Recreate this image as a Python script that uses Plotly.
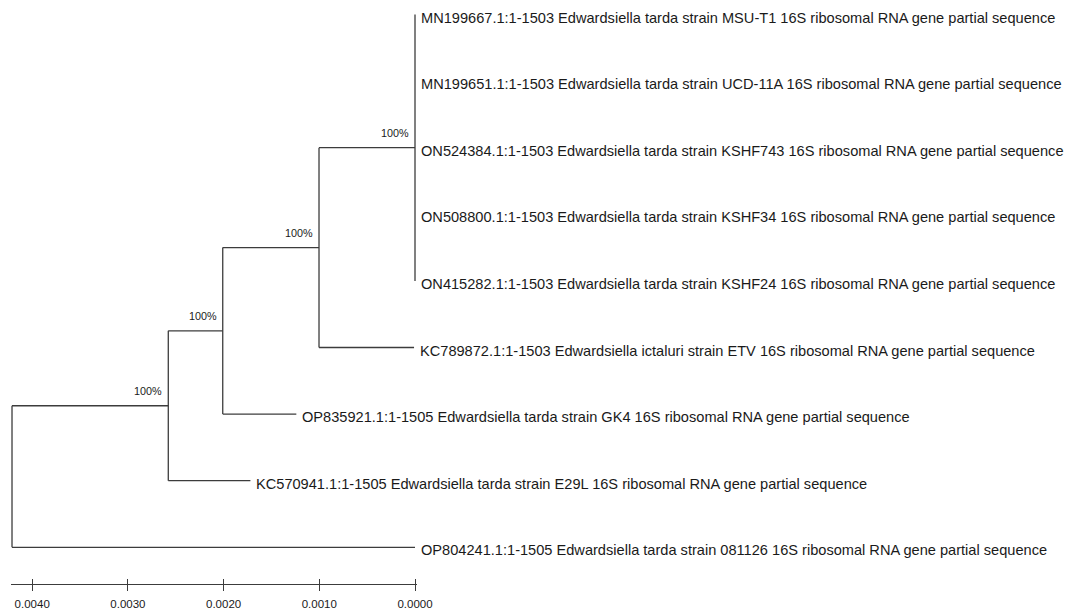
import plotly.graph_objects as go

# Leaves (top to bottom) and their distance values on the scale
leaf_names = [
    "MN199667.1:1-1503 Edwardsiella tarda strain MSU-T1 16S ribosomal RNA gene partial sequence",
    "MN199651.1:1-1503 Edwardsiella tarda strain UCD-11A 16S ribosomal RNA gene partial sequence",
    "ON524384.1:1-1503 Edwardsiella tarda strain KSHF743 16S ribosomal RNA gene partial sequence",
    "ON508800.1:1-1503 Edwardsiella tarda strain KSHF34 16S ribosomal RNA gene partial sequence",
    "ON415282.1:1-1503 Edwardsiella tarda strain KSHF24 16S ribosomal RNA gene partial sequence",
    "KC789872.1:1-1503 Edwardsiella ictaluri strain ETV 16S ribosomal RNA gene partial sequence",
    "OP835921.1:1-1505 Edwardsiella tarda strain GK4 16S ribosomal RNA gene partial sequence",
    "KC570941.1:1-1505 Edwardsiella tarda strain E29L 16S ribosomal RNA gene partial sequence",
    "OP804241.1:1-1505 Edwardsiella tarda strain 081126 16S ribosomal RNA gene partial sequence",
]
leaf_heights = [0.0, 0.0, 0.0, 0.0, 0.0, 0.00001, 0.00124, 0.00172, 0.0]

# Internal nodes: height on the scale, children, bootstrap support
node_ids = ["D", "C", "B", "A", "root"]
node_heights = [0.0, 0.001003, 0.002009, 0.002578, 0.004211]
node_children = [
    ["L0", "L1", "L2", "L3", "L4"],
    ["D", "L5"],
    ["C", "L6"],
    ["B", "L7"],
    ["A", "L8"],
]
node_support = ["100%", "100%", "100%", "100%", ""]

# Scale bar
scale_ticks = [0.0040, 0.0030, 0.0020, 0.0010, 0.0000]
scale_labels = ["0.0040", "0.0030", "0.0020", "0.0010", "0.0000"]

# ---- layout geometry (pixels) ----
W, H = 1083, 612
PX_PER_UNIT = 95700.0      # pixels per unit of distance
ZERO_PX = 415.0            # x pixel of distance 0
LEFT_PX = 11.0             # left end of the scale bar / plot area
RIGHT_PX = 417.0           # right end of the plot area
LEAF0_PX = 14.5            # y pixel of first leaf
LEAF_STEP = 66.6           # y pixels between leaves
SCALE_Y_PX = 584.0

LINE_COLOR = "#3c3c3c"
TEXT_COLOR = "#1a1a1a"
FONT = "Liberation Sans, Arial, sans-serif"

# ---- build coordinates ----
height = {f"L{i}": h for i, h in enumerate(leaf_heights)}
ypos = {f"L{i}": float(i) for i in range(len(leaf_names))}
for nid, h, ch in zip(node_ids, node_heights, node_children):
    height[nid] = h
    ys = [ypos[c] for c in ch]
    ypos[nid] = (min(ys) + max(ys)) / 2.0

xs, ys = [], []
for nid, ch in zip(node_ids, node_children):
    hx = height[nid]
    cy = [ypos[c] for c in ch]
    xs += [hx, hx, None]
    ys += [min(cy), max(cy), None]
    for c in ch:
        if height[c] != hx:
            xs += [hx, height[c], None]
            ys += [ypos[c], ypos[c], None]

fig = go.Figure()
fig.add_trace(go.Scatter(
    x=xs, y=ys, mode="lines",
    line=dict(color=LINE_COLOR, width=1.3),
    hoverinfo="skip", showlegend=False,
))
# placeholder on the overlaid axis carrying the upper half of the scale ticks
fig.add_trace(go.Scatter(x=[None], y=[None], xaxis="x2", yaxis="y",
                         mode="lines", hoverinfo="skip", showlegend=False))

annotations = []
for i, name in enumerate(leaf_names):
    annotations.append(dict(
        x=leaf_heights[i], y=ypos[f"L{i}"], xref="x", yref="y",
        text=name, showarrow=False, xanchor="left", yanchor="middle",
        xshift=4, yshift=-3,
        font=dict(family=FONT, size=14.6, color=TEXT_COLOR),
    ))
for nid, sup in zip(node_ids, node_support):
    if not sup:
        continue
    annotations.append(dict(
        x=height[nid], y=ypos[nid], xref="x", yref="y",
        text=sup, showarrow=False, xanchor="right", yanchor="bottom",
        xshift=-4, yshift=7,
        font=dict(family=FONT, size=10.8, color=TEXT_COLOR),
    ))

x_range = [(ZERO_PX - LEFT_PX) / PX_PER_UNIT, (ZERO_PX - RIGHT_PX) / PX_PER_UNIT]
x_dom = [LEFT_PX / W, RIGHT_PX / W]
y_range = [(H - LEAF0_PX) / LEAF_STEP, -LEAF0_PX / LEAF_STEP]
scale_pos = (H - SCALE_Y_PX) / H

fig.update_layout(
    width=W, height=H,
    margin=dict(l=0, r=0, t=0, b=0, autoexpand=False),
    paper_bgcolor="white", plot_bgcolor="white",
    showlegend=False,
    annotations=annotations,
    xaxis=dict(
        domain=x_dom, range=x_range, anchor="free", position=scale_pos,
        showline=True, linecolor=LINE_COLOR, linewidth=1.3,
        ticks="outside", ticklen=6, tickwidth=1.3, tickcolor=LINE_COLOR,
        ticklabelstandoff=3,
        tickvals=scale_ticks, ticktext=scale_labels,
        tickfont=dict(family=FONT, size=11.5, color=TEXT_COLOR),
        showgrid=False, zeroline=False, fixedrange=True, automargin=False,
    ),
    xaxis2=dict(
        overlaying="x", range=x_range, anchor="free", position=scale_pos,
        showline=False, ticks="inside", ticklen=5, tickwidth=1.3, tickcolor=LINE_COLOR,
        tickvals=scale_ticks, showticklabels=False,
        showgrid=False, zeroline=False, fixedrange=True, automargin=False,
    ),
    yaxis=dict(range=y_range, domain=[0, 1], visible=False, fixedrange=True),
)

fig.write_html("out.html", config={"displayModeBar": False})
